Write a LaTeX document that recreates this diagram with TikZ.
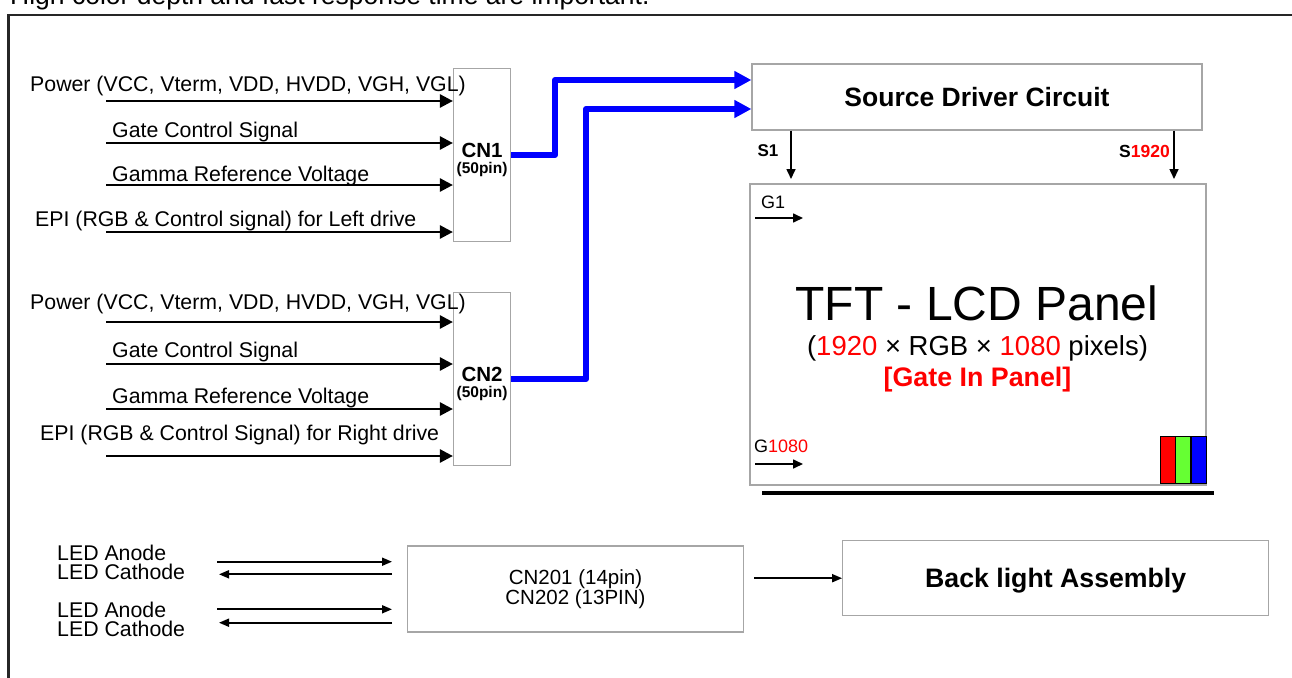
\documentclass[tikz,border=0pt]{standalone}
\usepackage{fontspec}
\setmainfont{Liberation Sans}
\usetikzlibrary{arrows.meta, positioning}
\newcommand{\fsz}[2]{\fontsize{#1}{#2}\selectfont}
\definecolor{boxgray}{HTML}{A6A6A6}
\definecolor{busblue}{HTML}{0000FF}
\definecolor{pixgreen}{HTML}{66FF33}

\begin{document}
\begin{tikzpicture}[x=1pt, y=-1pt,
    every node/.style={font=\fsz{21.3}{24}},
    lbl/.style={anchor=base west, inner sep=0pt},
    cnbox/.style={draw=boxgray, line width=1.2pt, minimum width=57pt, minimum height=173pt, inner sep=0pt},
    cntext/.style={align=center, inner sep=0pt, font=\fsz{20.5}{16.3}\bfseries},
    blockbox/.style={draw=boxgray, line width=1.2pt, inner sep=0pt, align=center},
    cell/.style={draw=black, line width=1.5pt, minimum width=15.5pt, minimum height=47pt, inner sep=0pt},
    sigarrow/.style={-{Triangle[length=13pt, width=13pt]}, line width=2.6pt},
    busarrow/.style={-{Triangle[length=17pt, width=17pt]}, line width=6pt, draw=busblue, line join=round},
    pinarrow/.style={-{Triangle[length=10pt, width=9pt]}, line width=1.6pt},
    ledarrow/.style={-{Triangle[length=10pt, width=8pt]}, line width=1.8pt}
]
    \useasboundingbox (0,0) rectangle (1292,677);
    \clip (0,0) rectangle (1292,677);

    % Page text and frame
    \node (note) [lbl, font=\fsz{26.5}{28}] at (10,5) {High color depth and fast response time are important.};
    \draw[line width=2.5pt, black!85] (8.5,690) -- (8.5,15) -- (1300,15);

    % Connectors CN1 / CN2
    \node (cn1) [cnbox] at (482,155) {};
    \node (cn1txt) [cntext] at (482,159.8) {CN1\\{\fsz{15.5}{16.3}(50pin)}};
    \node (cn2) [cnbox] at (482,379) {};
    \node (cn2txt) [cntext] at (482,383.8) {CN2\\{\fsz{15.5}{16.3}(50pin)}};

    % Left drive inputs
    \node (pwr1) [lbl] at (30,91.5) {Power (VCC, Vterm, VDD, HVDD, VGH, VGL)};
    \node (gcs1) [lbl] at (112,137.5) {Gate Control Signal};
    \node (gam1) [lbl] at (112,181.5) {Gamma Reference Voltage};
    \node (epi1) [lbl] at (35,226.5) {EPI (RGB \& Control signal) for Left drive};
    \coordinate (in11) at (106,101);
    \coordinate (in12) at (106,143);
    \coordinate (in13) at (106,185);
    \coordinate (in14) at (106,232);
    \draw [sigarrow] (in11) -- (in11 -| cn1.west);
    \draw [sigarrow] (in12) -- (in12 -| cn1.west);
    \draw [sigarrow] (in13) -- (in13 -| cn1.west);
    \draw [sigarrow] (in14) -- (in14 -| cn1.west);

    % Right drive inputs
    \node (pwr2) [lbl] at (30,309.5) {Power (VCC, Vterm, VDD, HVDD, VGH, VGL)};
    \node (gcs2) [lbl] at (112,357.5) {Gate Control Signal};
    \node (gam2) [lbl] at (112,403.5) {Gamma Reference Voltage};
    \node (epi2) [lbl] at (40,440.5) {EPI (RGB \& Control Signal) for Right drive};
    \coordinate (in21) at (106,322);
    \coordinate (in22) at (106,364);
    \coordinate (in23) at (106,409);
    \coordinate (in24) at (106,456);
    \draw [sigarrow] (in21) -- (in21 -| cn2.west);
    \draw [sigarrow] (in22) -- (in22 -| cn2.west);
    \draw [sigarrow] (in23) -- (in23 -| cn2.west);
    \draw [sigarrow] (in24) -- (in24 -| cn2.west);

    % Source driver
    \node (sdc) [blockbox, minimum width=450pt, minimum height=66pt, font=\fsz{26.5}{26}\bfseries] at (977,97) {Source Driver Circuit};

    % Bus to source driver
    \coordinate (bend1) at (555,80);
    \coordinate (bend2) at (586,109);
    \draw [busarrow] (cn1.east) -| (bend1) -- (bend1 -| sdc.west);
    \draw [busarrow] (cn2.east) -| (bend2) -- (bend2 -| sdc.west);

    % TFT panel
    \node (tft) [blockbox, minimum width=456pt, minimum height=301pt] at (978,334.5) {};
    \node (title) [font=\fsz{48}{48}] at (977,303) {TFT - LCD Panel};
    \node (res) [font=\fsz{27.5}{28}] at (977.5,348) {(\textcolor{red}{1920} × RGB × \textcolor{red}{1080} pixels)};
    \node (gip) [font=\fsz{26.8}{27}\bfseries, text=red] at (977.5,380) {[Gate In Panel]};

    % Source lines
    \coordinate (s1) at (791,179);
    \coordinate (s2) at (1174,179);
    \draw [pinarrow] (s1 |- sdc.south) -- (s1);
    \draw [pinarrow] (s2 |- sdc.south) -- (s2);
    \node (s1lbl) [font=\fsz{17}{17}\bfseries] at (768,151) {S1};
    \node (s2lbl) [font=\fsz{17.5}{17}\bfseries] at (1144.5,151) {S\textcolor{red}{1920}};

    % Gate lines
    \node (g1lbl) [lbl, font=\fsz{18}{18}] at (761,208) {G1};
    \node (g2lbl) [lbl, font=\fsz{18}{18}] at (754,452) {G\textcolor{red}{1080}};
    \coordinate (g1s) at (755,218);
    \coordinate (g1e) at (803,218);
    \coordinate (g2s) at (755,464);
    \coordinate (g2e) at (803,464);
    \draw [pinarrow] (g1s) -- (g1e);
    \draw [pinarrow] (g2s) -- (g2e);

    % RGB sub pixel
    \node (pxr) [cell, fill=red] at (1168.3,460) {};
    \node (pxg) [cell, fill=pixgreen] at (1183.3,460) {};
    \node (pxb) [cell, fill=blue] at (1198.8,460) {};
    \draw [line width=3.5pt] (762,493) -- (1214,493);

    % Back light
    \node (led1) [anchor=west, inner sep=0pt, align=left, font=\fsz{21.3}{19}] at (57,562.3) {LED Anode\\LED Cathode};
    \node (led2) [anchor=west, inner sep=0pt, align=left, font=\fsz{21.3}{19}] at (57,619.5) {LED Anode\\LED Cathode};
    \node (cnbl) [blockbox, minimum width=336pt, minimum height=86pt, font=\fsz{20.5}{20}] at (575.5,589) {CN201 (14pin)\\CN202 (13PIN)};
    \node (bla) [blockbox, minimum width=426pt, minimum height=75pt, text depth=0pt, font=\fsz{26.7}{27}\bfseries] at (1055.7,578.2) {Back light Assembly};
    \coordinate (la1) at (217,561.7);
    \coordinate (lb1) at (392,561.7);
    \coordinate (lc1) at (392,574.3);
    \coordinate (ld1) at (219,574.3);
    \coordinate (la2) at (217,609.3);
    \coordinate (lb2) at (392,609.3);
    \coordinate (lc2) at (392,622.7);
    \coordinate (ld2) at (219,622.7);
    \draw [ledarrow] (la1) -- (lb1);
    \draw [ledarrow] (lc1) -- (ld1);
    \draw [ledarrow] (la2) -- (lb2);
    \draw [ledarrow] (lc2) -- (ld2);
    \coordinate (blstart) at (754,578.2);
    \draw [ledarrow] (blstart) -- (bla.west);

\end{tikzpicture}
\end{document}
